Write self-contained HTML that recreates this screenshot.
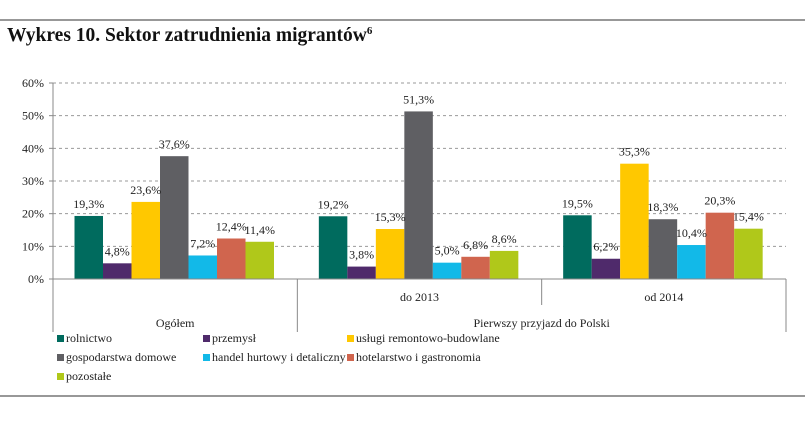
<!DOCTYPE html>
<html><head><meta charset="utf-8"><style>
body{margin:0;background:#fff;width:805px;height:422px;overflow:hidden;font-family:"Liberation Serif",serif;}
svg{display:block}
</style></head><body>
<svg width="805" height="422">
<line x1="0" y1="20" x2="805" y2="20" stroke="#777" stroke-width="1.5"/>
<line x1="0" y1="396" x2="805" y2="396" stroke="#777" stroke-width="1.5"/>
<text x="7" y="41" font-size="19.5" font-weight="bold" fill="#111">Wykres 10. Sektor zatrudnienia migrantów<tspan font-size="11" dy="-7">6</tspan></text>
<g id="grid"></g><g id="bars"></g><g id="labels"></g><g id="axes"></g><g id="legend"></g>
</svg>
<script>
const groups=["Ogółem","do 2013","od 2014"];
const series=["rolnictwo","przemysł","usługi remontowo-budowlane","gospodarstwa domowe","handel hurtowy i detaliczny","hotelarstwo i gastronomia","pozostałe"];
const colors=["#006b5e","#4f2a6b","#ffc800","#5f5f63","#12b9e8","#d0654e","#b0c81a"];
const vOgolem=[19.3,4.8,23.6,37.6,7.2,12.4,11.4];
const vDo2013=[19.2,3.8,15.3,51.3,5.0,6.8,8.6];
const vOd2014=[19.5,6.2,35.3,18.3,10.4,20.3,15.4];
const values=[vOgolem,vDo2013,vOd2014];
const yTicks=[0,10,20,30,40,50,60];
const NS="http://www.w3.org/2000/svg";
const x0=53,x1=786,y0=279,ppu=(279-83)/60;
const gw=(x1-x0)/3,bw=28.5,pad=21.5;
const y=v=>y0-v*ppu;
function mk(tag,attrs,parent,txt){const e=document.createElementNS(NS,tag);for(const k in attrs)e.setAttribute(k,attrs[k]);if(txt!==undefined)e.textContent=txt;document.getElementById(parent).appendChild(e);return e;}
yTicks.forEach(t=>{
 if(t>0){const g=mk('line',{x1:x0,x2:x1,y1:y(t),y2:y(t),stroke:'#999','stroke-dasharray':'3,3'},'grid');
 
 }
 const tk=mk('line',{x1:x0-4,x2:x0,y1:y(t),y2:y(t),stroke:'#888'},'axes');
 
 
 const l=mk('text',{x:x0-9,y:y(t)+4,'font-size':12,'text-anchor':'end',fill:'#222'},'labels',t+'%');
 
 
});
values.forEach((arr,gi)=>{
 arr.forEach((v,si)=>{
  const bx=x0+gi*gw+pad+si*bw;
  const r=mk('rect',{x:bx,y:y(v),width:bw,height:v*ppu,fill:colors[si]},'bars');
  
  
  const t=mk('text',{x:bx+bw/2,y:y(v)-8,'font-size':12,'text-anchor':'middle',fill:'#222'},'labels',v.toFixed(1).replace('.',',')+'%');
  
  
 });
});
const ax=mk('line',{x1:x0,x2:x0,y1:83,y2:332,stroke:'#888'},'axes');


const xa=mk('line',{x1:x0,x2:x1,y1:y0,y2:y0,stroke:'#888'},'axes');


[[x0+gw,332],[x1,332],[x0+2*gw,305]].forEach((p,i)=>{
 const l=mk('line',{x1:p[0],x2:p[0],y1:y0,y2:p[1],stroke:'#888'},'axes');
 
 
});
[[x0+gw*1.5,301,groups[1]],[x0+gw*2.5,301,groups[2]],[x0+gw*0.5,327,groups[0]],[x0+gw*2,327,"Pierwszy przyjazd do Polski"]].forEach((c,i)=>{
 const t=mk('text',{x:c[0],y:c[1],'font-size':12,'text-anchor':'middle',fill:'#222'},'labels',c[2]);
 
 
});
const lx=[57,203,347],ly=[342,361,380];
series.forEach((s,i)=>{
 const cx=lx[i%3],cy=ly[Math.floor(i/3)];
 const r=mk('rect',{x:cx,y:cy-7,width:7,height:7,fill:colors[i]},'legend');
 
 
 const t=mk('text',{x:cx+9,y:cy,'font-size':12,fill:'#222'},'legend',s);
 
 
});
</script>
</body></html>
